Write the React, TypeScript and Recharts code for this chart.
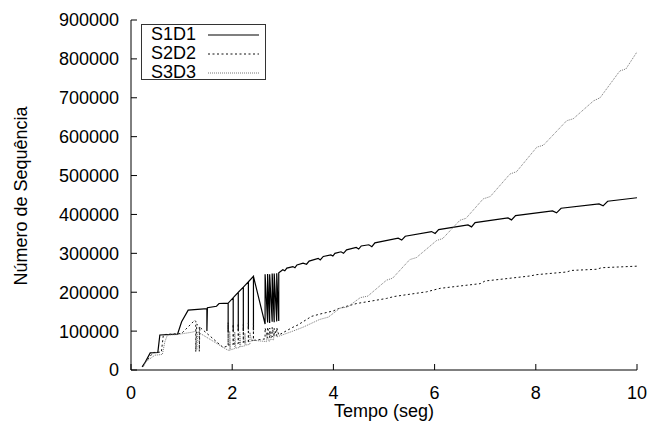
import React from 'react';
import { LineChart, Line, XAxis, YAxis, Legend } from 'recharts';

type Pt = { t: number; v: number };
const toPts = (rows: number[][]): Pt[] => rows.map(([t, v]) => ({ t, v }));

const xTicks = [0, 2, 4, 6, 8, 10];
const yTicks = [0, 100000, 200000, 300000, 400000, 500000, 600000, 700000, 800000, 900000];

// S1D1 - solid
const s1d1 = toPts([
  [0.22, 8000], [0.28, 20000], [0.38, 44000], [0.53, 45000], [0.57, 90000], [0.92, 92000],
  [1.0, 124000], [1.13, 154000], [1.5, 158000], [1.5, 100000], [1.51, 160000], [1.69, 164000],
  [1.74, 171000], [1.92, 172000], [1.92, 98000], [1.92, 172000], [2.02, 186000], [2.02, 100000],
  [2.02, 186000], [2.12, 200000], [2.12, 102000], [2.12, 200000], [2.22, 213000], [2.22, 100000],
  [2.22, 213000], [2.32, 227000], [2.32, 104000], [2.32, 227000], [2.42, 241000], [2.42, 102000],
  [2.42, 241000], [2.65, 118000], [2.65, 246000], [2.7, 122000], [2.7, 247000], [2.74, 121000],
  [2.74, 246000], [2.79, 124000], [2.79, 248000], [2.83, 123000], [2.83, 248000], [2.88, 125000],
  [2.88, 249000], [2.92, 126000], [2.92, 250000],
  [3.0, 258000], [3.04, 255000], [3.08, 262000], [3.2, 266000], [3.24, 263000], [3.28, 270000],
  [3.4, 275000], [3.47, 272000], [3.52, 280000], [3.7, 287000], [3.74, 283000], [3.8, 292000],
  [3.95, 296000], [3.99, 293000], [4.03, 300000], [4.15, 304000], [4.2, 300000], [4.26, 309000],
  [4.45, 315000], [4.5, 311000], [4.55, 319000],
  [4.7, 322000], [4.76, 317000], [4.82, 327000], [5.28, 339000], [5.35, 334000], [5.42, 344000],
  [5.94, 356000], [6.01, 351000], [6.08, 361000], [6.66, 373000], [6.73, 368000], [6.8, 379000],
  [7.45, 391000], [7.52, 386000], [7.6, 397000], [8.33, 409000], [8.41, 404000], [8.5, 416000],
  [9.25, 427000], [9.33, 422000], [9.42, 434000], [10.0, 443000],
]);

// S2D2 - dashed
const s2d2 = toPts([
  [0.23, 8000], [0.29, 21000], [0.44, 45000], [0.6, 46000], [0.64, 91000], [1.0, 94000],
  [1.26, 128000], [1.28, 125000], [1.28, 47000], [1.3, 118000], [1.35, 112000], [1.35, 48000],
  [1.36, 110000], [1.82, 58000], [1.92, 62000], [1.92, 122000], [1.92, 64000], [2.02, 66000],
  [2.02, 118000], [2.02, 67000], [2.12, 68000], [2.12, 120000], [2.12, 70000], [2.22, 71000],
  [2.22, 117000], [2.22, 72000], [2.32, 73000], [2.32, 121000], [2.32, 74000], [2.42, 76000],
  [2.42, 119000], [2.42, 76000], [2.65, 80000], [2.65, 108000], [2.7, 82000], [2.7, 110000],
  [2.74, 83000], [2.74, 108000], [2.79, 85000], [2.79, 110000], [2.83, 86000], [2.83, 107000],
  [2.88, 88000], [2.88, 109000], [2.92, 90000],
  [3.2, 110000], [3.3, 116000], [3.57, 138000], [3.74, 144000], [4.0, 152000], [4.1, 158000],
  [4.46, 171000], [4.6, 174000], [5.05, 184000], [5.2, 189000], [5.84, 201000], [6.11, 210000],
  [6.5, 216000], [6.9, 222000], [7.0, 229000], [7.29, 233000], [7.9, 242000], [8.0, 245000],
  [8.61, 252000], [8.7, 256000], [9.2, 259000], [9.3, 263000], [10.0, 267000],
]);

// S3D3 - dotted
const s3d3 = toPts([
  [0.25, 10000], [0.3, 22000], [0.47, 38000], [0.62, 40000], [0.67, 73000], [0.72, 90000],
  [0.9, 91000], [1.2, 97000], [1.28, 100000], [1.3, 52000], [1.32, 98000], [1.9, 52000],
  [1.95, 50000], [1.95, 100000], [1.97, 52000], [2.05, 55000], [2.05, 98000], [2.07, 56000],
  [2.15, 58000], [2.15, 96000], [2.17, 60000], [2.25, 62000], [2.25, 95000], [2.27, 64000],
  [2.35, 66000], [2.35, 97000], [2.38, 77000], [2.68, 73000], [2.68, 95000], [2.72, 74000],
  [2.75, 75000], [2.75, 96000], [2.79, 77000], [2.82, 78000], [2.82, 94000], [2.88, 85000],
  [3.2, 100000], [3.4, 110000], [3.73, 130000], [3.9, 136000], [4.13, 159000], [4.28, 162000],
  [4.53, 186000], [4.68, 190000], [5.05, 231000], [5.17, 236000], [5.51, 284000], [5.64, 289000],
  [6.04, 333000], [6.16, 338000], [6.5, 385000], [6.62, 390000], [6.96, 440000], [7.1, 446000],
  [7.49, 504000], [7.62, 510000], [8.02, 573000], [8.15, 578000], [8.61, 641000], [8.74, 646000],
  [9.14, 692000], [9.27, 700000], [9.66, 769000], [9.78, 774000], [10.0, 818000],
]);

const series = [
  { name: 'S1D1', data: s1d1, stroke: '#000', dash: undefined as string | undefined, width: 1.2 },
  { name: 'S2D2', data: s2d2, stroke: '#111', dash: '2 2.5', width: 1 },
  { name: 'S3D3', data: s3d3, stroke: '#777', dash: '1 1', width: 1 },
];

const font = '"Liberation Sans", Arial, Helvetica, sans-serif';
const tickStyle = { fontSize: 18, fill: '#000', fontFamily: font };

function LegendBox() {
  return (
    <div style={{ border: '1px solid #333', background: '#fff', width: 125, height: 56, paddingLeft: 9, boxSizing: 'border-box', fontFamily: font, fontSize: 18 }}>
      {series.map((s) => (
        <div key={s.name} style={{ height: 19, lineHeight: '19px', display: 'flex', alignItems: 'center' }}>
          <span style={{ width: 57 }}>{s.name}</span>
          <svg width={51} height={4}>
            <line x1={0} y1={2} x2={51} y2={2} stroke={s.stroke} strokeWidth={s.width} strokeDasharray={s.dash} />
          </svg>
        </div>
      ))}
    </div>
  );
}

export default function App() {
  return (
    <div style={{ position: 'absolute', left: 0, top: 0, width: 651, height: 428, background: '#fff' }}>
      <LineChart width={651} height={428} margin={{ top: 20, right: 14, left: 0, bottom: 0 }}>
        <XAxis
          xAxisId="b"
          dataKey="t"
          type="number"
          domain={[0, 10]}
          ticks={xTicks}
          height={58}
          tickSize={-6}
          tickMargin={22}
          tick={tickStyle}
          axisLine={{ stroke: '#000' }}
          tickLine={{ stroke: '#000' }}
          allowDataOverflow
        />
        <XAxis
          xAxisId="t"
          orientation="top"
          dataKey="t"
          type="number"
          domain={[0, 10]}
          ticks={xTicks}
          height={0}
          tickSize={-6}
          tick={false}
          axisLine={{ stroke: '#000' }}
          tickLine={{ stroke: '#000' }}
        />
        <YAxis
          yAxisId="l"
          type="number"
          domain={[0, 900000]}
          ticks={yTicks}
          width={131}
          tickSize={-6}
          tickMargin={18}
          tick={tickStyle}
          axisLine={{ stroke: '#000' }}
          tickLine={{ stroke: '#000' }}
        />
        <YAxis
          yAxisId="r"
          orientation="right"
          type="number"
          domain={[0, 900000]}
          ticks={yTicks}
          width={0}
          tickSize={-6}
          tick={false}
          axisLine={{ stroke: '#000' }}
          tickLine={{ stroke: '#000' }}
        />
        <Legend
          layout="vertical"
          align="center"
          verticalAlign="middle"
          wrapperStyle={{ left: 141, top: 24, width: 125, height: 56 }}
          content={() => <LegendBox />}
        />
        {series.map((s) => (
          <Line
            key={s.name}
            xAxisId="b"
            yAxisId="l"
            data={s.data}
            dataKey="v"
            name={s.name}
            type="linear"
            stroke={s.stroke}
            strokeWidth={s.width}
            strokeDasharray={s.dash}
            dot={false}
            activeDot={false}
            isAnimationActive={false}
          />
        ))}
      </LineChart>
      <div style={{ position: 'absolute', left: 384, top: 401, transform: 'translateX(-50%)', fontFamily: font, fontSize: 18, whiteSpace: 'nowrap' }}>
        Tempo (seg)
      </div>
      <div style={{ position: 'absolute', left: 21, top: 196, transform: 'translate(-50%, -50%) rotate(-90deg)', fontFamily: font, fontSize: 18, whiteSpace: 'nowrap' }}>
        Número de Sequência
      </div>
    </div>
  );
}
